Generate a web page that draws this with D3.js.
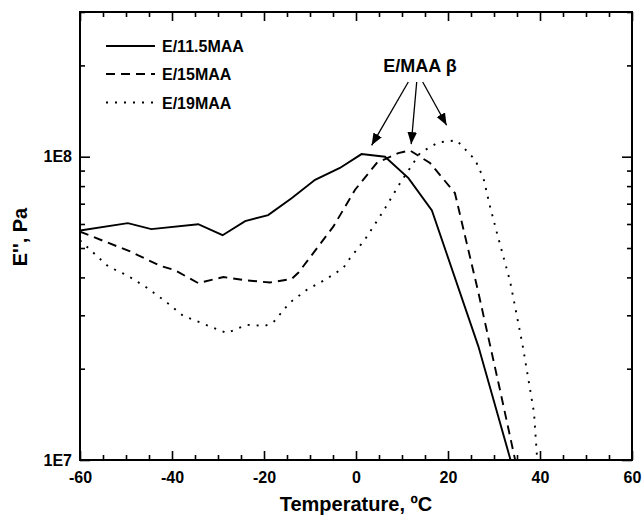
<!DOCTYPE html>
<html>
<head>
<meta charset="utf-8">
<script src="https://cdn.jsdelivr.net/npm/d3@7"></script>
<style>
  html, body { margin: 0; padding: 0; background: #fff; }
  svg { display: block; font-family: "Liberation Sans", Arial, sans-serif; }
</style>
</head>
<body>
<svg id="chart" width="644" height="515"></svg>
<script>
// ---- data ----
const seriesNames = ["E/11.5MAA", "E/15MAA", "E/19MAA"];

const tempA = [-60, -49.6, -44.5, -34.3, -29, -24.1, -19.1, -14, -8.9, -3.5, 1.2, 6.3, 11.4, 16.5, 26.6, 33.6];
const modA  = [5.71e7, 6.04e7, 5.77e7, 5.99e7, 5.51e7, 6.13e7, 6.42e7, 7.3e7, 8.39e7, 9.18e7, 1.02e8, 1.0e8, 8.5e7, 6.65e7, 2.37e7, 1.0e7];

const tempB = [-60, -49.1, -42.6, -39.3, -34.3, -28.8, -23.8, -18.7, -14, -12.5, -4.9, -0.2, 4.5, 9.2, 11.7, 16.1, 21.5, 26.6, 31.5, 34.6];
const modB  = [5.66e7, 4.87e7, 4.37e7, 4.22e7, 3.83e7, 4.01e7, 3.91e7, 3.85e7, 3.95e7, 4.15e7, 5.89e7, 7.78e7, 9.53e7, 1.028e8, 1.049e8, 9.53e7, 7.59e7, 3.57e7, 1.65e7, 1.0e7];

const tempC = [-60, -53.9, -49.6, -45.6, -41.6, -37.6, -33.6, -28.1, -23.8, -19.8, -18, -14.5, -10.7, -6.7, -2.8, -1.3, 2, 5.9, 9.6, 13.9, 17.9, 21.9, 25.9, 27.7, 29.1, 30.7, 33.5, 36.2, 38.7, 39.4];
const modC  = [5.3e7, 4.35e7, 4.05e7, 3.71e7, 3.35e7, 2.99e7, 2.83e7, 2.62e7, 2.79e7, 2.77e7, 2.84e7, 3.29e7, 3.64e7, 3.93e7, 4.29e7, 4.63e7, 5.35e7, 6.6e7, 8.19e7, 1.028e8, 1.115e8, 1.132e8, 9.77e7, 8.5e7, 6.89e7, 5.56e7, 3.88e7, 2.4e7, 1.43e7, 1.0e7];

const xTicks = [-60, -40, -20, 0, 20, 40, 60];
const yTickValues = [1e7, 1e8];
const yTickLabels = ["1E7", "1E8"];

const xTitle = "Temperature, ºC";
const yTitle = "E'', Pa";
const annotation = "E/MAA β";
// peak positions pointed to by the arrows (temperature, modulus)
const arrowTargets = [[3.4, 1.09e8], [12.0, 1.1e8], [19.7, 1.27e8]];

// ---- layout ----
const L = 80, R = 632, T = 12, B = 460;
const svg = d3.select("#chart");
const x = d3.scaleLinear().domain([-60, 60]).range([L, R]);
const y = d3.scaleLog().domain([1e7, 3e8]).range([B, T]);

const defs = svg.append("defs");
defs.append("clipPath").attr("id", "plotclip")
  .append("rect").attr("x", L).attr("y", T).attr("width", R - L).attr("height", B - T);
defs.append("marker").attr("id", "arrow")
  .attr("viewBox", "0 0 10 10").attr("refX", 10).attr("refY", 5)
  .attr("markerWidth", 12).attr("markerHeight", 12).attr("markerUnits", "userSpaceOnUse")
  .attr("orient", "auto")
  .append("path").attr("d", "M0,1 L10,5 L0,9 Z").attr("fill", "#000");

const series = [
  { t: tempA, v: modA, dash: null },
  { t: tempB, v: modB, dash: "9,6" },
  { t: tempC, v: modC, dash: "2,7" }
];

const line = d3.line().x(d => x(d[0])).y(d => y(d[1]));
const gLines = svg.append("g").attr("clip-path", "url(#plotclip)");
series.forEach(s => {
  gLines.append("path")
    .datum(s.t.map((t, i) => [t, s.v[i]]))
    .attr("d", line)
    .attr("fill", "none")
    .attr("stroke", "#000")
    .attr("stroke-width", 1.9)
    .attr("stroke-dasharray", s.dash);
});

// ---- axes (ticks inward, mirrored) ----
const minorX = d3.range(-60, 61, 5).filter(v => v % 20 !== 0);
const minorY = [];
[1e7, 1e8].forEach(d => { for (let k = 2; k <= 9; k++) { const v = k * d; if (v <= 3e8) minorY.push(v); } });

const tickStyle = g => g.selectAll("line").attr("stroke", "#000").attr("stroke-width", 1.6);

const axB = svg.append("g").attr("transform", `translate(0,${B})`)
  .call(d3.axisBottom(x).tickValues(xTicks).tickSize(-9).tickPadding(12).tickFormat(d3.format("d")));
axB.call(g => g.select(".domain").remove());
axB.selectAll("text").attr("font-size", 16).attr("font-weight", "bold").attr("fill", "#000")
  .attr("font-family", "Liberation Sans, Arial, sans-serif")
  .text(d => (d < 0 ? "-" : "") + Math.abs(d));
axB.call(tickStyle);
svg.append("g").attr("transform", `translate(0,${B})`)
  .call(d3.axisBottom(x).tickValues(minorX).tickSize(-5).tickFormat(""))
  .call(g => g.select(".domain").remove()).call(tickStyle);

const axT = svg.append("g").attr("transform", `translate(0,${T})`)
  .call(d3.axisTop(x).tickValues(xTicks).tickSize(-9).tickFormat(""));
axT.call(g => g.select(".domain").remove()).call(tickStyle);
svg.append("g").attr("transform", `translate(0,${T})`)
  .call(d3.axisTop(x).tickValues(minorX).tickSize(-5).tickFormat(""))
  .call(g => g.select(".domain").remove()).call(tickStyle);

const axL = svg.append("g").attr("transform", `translate(${L},0)`)
  .call(d3.axisLeft(y).tickValues(yTickValues).tickSize(-10).tickPadding(8)
    .tickFormat((d, i) => yTickLabels[i]));
axL.call(g => g.select(".domain").remove());
axL.selectAll("text").attr("font-size", 16).attr("font-weight", "bold").attr("fill", "#000")
  .attr("font-family", "Liberation Sans, Arial, sans-serif");
axL.call(tickStyle);
svg.append("g").attr("transform", `translate(${L},0)`)
  .call(d3.axisLeft(y).tickValues(minorY).tickSize(-5).tickFormat(""))
  .call(g => g.select(".domain").remove()).call(tickStyle);

svg.append("g").attr("transform", `translate(${R},0)`)
  .call(d3.axisRight(y).tickValues(yTickValues).tickSize(-10).tickFormat(""))
  .call(g => g.select(".domain").remove()).call(tickStyle);
svg.append("g").attr("transform", `translate(${R},0)`)
  .call(d3.axisRight(y).tickValues(minorY).tickSize(-5).tickFormat(""))
  .call(g => g.select(".domain").remove()).call(tickStyle);

// frame
svg.append("rect").attr("x", L).attr("y", T).attr("width", R - L).attr("height", B - T)
  .attr("fill", "none").attr("stroke", "#000").attr("stroke-width", 2);

// ---- titles ----
svg.append("text").attr("x", (L + R) / 2).attr("y", 511).attr("text-anchor", "middle")
  .attr("font-size", 20).attr("font-weight", "bold").text(xTitle);
svg.append("text").attr("transform", `translate(27,${237}) rotate(-90)`).attr("text-anchor", "middle")
  .attr("font-size", 20).attr("font-weight", "bold").text(yTitle);

// ---- legend ----
const legY = [46, 74, 102.5];
const leg = svg.append("g");
series.forEach((s, i) => {
  leg.append("line").attr("x1", 106).attr("x2", 155).attr("y1", legY[i]).attr("y2", legY[i])
    .attr("stroke", "#000").attr("stroke-width", 1.9).attr("stroke-dasharray", s.dash);
  leg.append("text").attr("x", 162).attr("y", legY[i] + 6).attr("font-size", 16)
    .attr("font-weight", "bold").text(seriesNames[i]);
});

// ---- annotation ----
svg.append("text").attr("x", 420).attr("y", 72).attr("text-anchor", "middle")
  .attr("font-size", 18).attr("font-weight", "bold").text(annotation);
const arrowStarts = [408.3, 416.7, 422.7];
arrowTargets.forEach((p, i) => {
  svg.append("line").attr("x1", arrowStarts[i]).attr("y1", 82)
    .attr("x2", x(p[0])).attr("y2", y(p[1]))
    .attr("stroke", "#000").attr("stroke-width", 1.3).attr("marker-end", "url(#arrow)");
});
</script>
</body>
</html>
